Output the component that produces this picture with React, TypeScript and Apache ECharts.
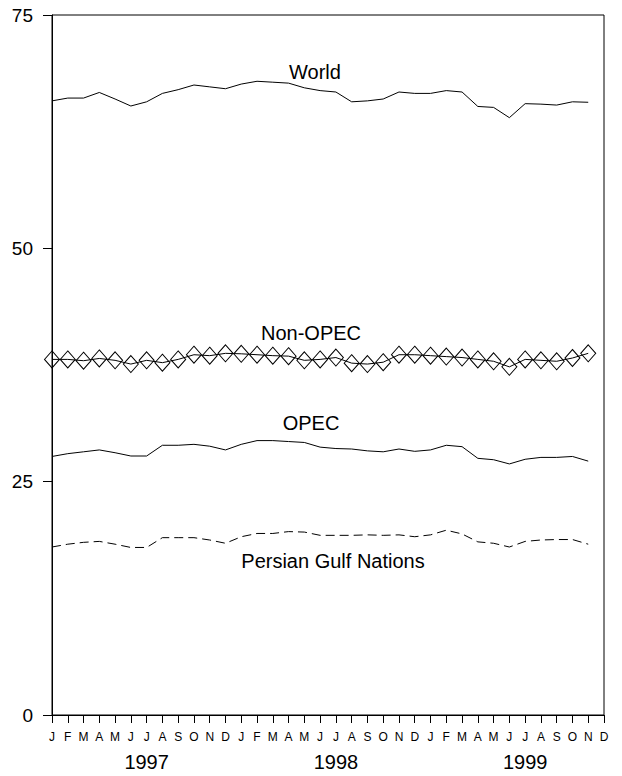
import React, { useEffect, useRef } from "react";
import * as echarts from "echarts";

const months = ["J","F","M","A","M","J","J","A","S","O","N","D","J","F","M","A","M","J","J","A","S","O","N","D","J","F","M","A","M","J","J","A","S","O","N","D"];
const yearLabels: Record<number, string> = { 6: "1997", 18: "1998", 30: "1999" };
const yTicks = [0, 25, 50, 75];

const world = [65.8,66.1,66.1,66.7,66.0,65.25,65.7,66.6,67.0,67.5,67.3,67.1,67.6,67.9,67.8,67.7,67.2,66.9,66.75,65.7,65.8,66.0,66.75,66.6,66.6,66.9,66.75,65.2,65.1,64.0,65.5,65.45,65.35,65.7,65.65];
const nonOpec = [38.1,38.1,37.96,38.2,38.0,37.6,38.0,37.75,38.1,38.6,38.5,38.75,38.7,38.6,38.5,38.45,38.0,38.1,38.3,37.7,37.6,37.8,38.6,38.6,38.5,38.4,38.3,38.1,37.9,37.3,38.1,38.0,37.9,38.25,38.75];
const opec = [27.7,28.0,28.2,28.4,28.1,27.75,27.75,28.9,28.9,29.0,28.8,28.4,29.0,29.4,29.4,29.3,29.2,28.7,28.55,28.5,28.3,28.2,28.5,28.25,28.4,28.9,28.75,27.5,27.35,26.9,27.4,27.6,27.6,27.7,27.2];
const persianGulf = [18.0,18.3,18.5,18.6,18.3,17.95,17.95,19.0,19.0,19.0,18.75,18.4,19.1,19.45,19.45,19.65,19.6,19.25,19.25,19.25,19.3,19.25,19.3,19.1,19.3,19.8,19.4,18.55,18.4,18.0,18.6,18.75,18.8,18.8,18.3];

const FONT = "'Liberation Sans', Arial, sans-serif";

export default function App() {
  const ref = useRef<HTMLDivElement>(null);
  useEffect(() => {
    if (!ref.current) return;
    const chart = echarts.init(ref.current, undefined, { renderer: "svg" });
    const lineBase = { type: "line" as const, showSymbol: false, symbol: "none", silent: true };
    chart.setOption({
      animation: false,
      backgroundColor: "#fff",
      textStyle: { fontFamily: FONT, color: "#000" },
      grid: { left: 52, right: 18, top: 15, bottom: 61, show: true, borderColor: "#000", borderWidth: 1, backgroundColor: "transparent" },
      xAxis: [
        {
          type: "category",
          data: months,
          boundaryGap: false,
          axisLine: { lineStyle: { color: "#000", width: 1 } },
          axisTick: { show: true, length: 8, interval: 0, lineStyle: { color: "#000" } },
          axisLabel: { interval: 0, fontSize: 12, color: "#000", margin: 16, fontFamily: FONT },
          splitLine: { show: false },
        },
        {
          type: "category",
          data: months,
          boundaryGap: false,
          position: "bottom",
          axisLine: { show: false },
          axisTick: { show: false },
          axisLabel: {
            interval: 0,
            fontSize: 20,
            color: "#000",
            margin: 37,
            fontFamily: FONT,
            formatter: (_v: string, i: number) => yearLabels[i] || "",
          },
          splitLine: { show: false },
        },
      ],
      yAxis: {
        type: "value",
        min: yTicks[0],
        max: yTicks[yTicks.length - 1],
        interval: 25,
        axisLine: { show: true, lineStyle: { color: "#000", width: 1 } },
        axisTick: { show: true, length: 9, lineStyle: { color: "#000" } },
        axisLabel: { fontSize: 19, color: "#000", margin: 19, fontFamily: FONT },
        splitLine: { show: false },
      },
      series: [
        { ...lineBase, name: "World", data: world, lineStyle: { color: "#000", width: 1 } },
        {
          type: "line",
          name: "Non-OPEC",
          data: nonOpec,
          symbol: "diamond",
          symbolSize: [15, 17],
          showAllSymbol: true,
          silent: true,
          lineStyle: { color: "#000", width: 1 },
          itemStyle: { color: "rgba(0,0,0,0)", borderColor: "#000", borderWidth: 1 },
        },
        { ...lineBase, name: "OPEC", data: opec, lineStyle: { color: "#000", width: 1 } },
        { ...lineBase, name: "Persian Gulf Nations", data: persianGulf, lineStyle: { color: "#000", width: 1, type: [9, 5] } },
      ],
      graphic: [
        { type: "text", x: 315, y: 72, style: { text: "World", fill: "#000", font: `20px ${FONT}`, textAlign: "center", textVerticalAlign: "middle" } },
        { type: "text", x: 311, y: 333, style: { text: "Non-OPEC", fill: "#000", font: `20px ${FONT}`, textAlign: "center", textVerticalAlign: "middle" } },
        { type: "text", x: 311, y: 423, style: { text: "OPEC", fill: "#000", font: `20px ${FONT}`, textAlign: "center", textVerticalAlign: "middle" } },
        { type: "text", x: 333, y: 561, style: { text: "Persian Gulf Nations", fill: "#000", font: `20px ${FONT}`, textAlign: "center", textVerticalAlign: "middle" } },
      ],
    });
    return () => chart.dispose();
  }, []);
  return <div ref={ref} style={{ position: "fixed", left: 0, top: 0, width: 622, height: 776, background: "#fff" }} />;
}
